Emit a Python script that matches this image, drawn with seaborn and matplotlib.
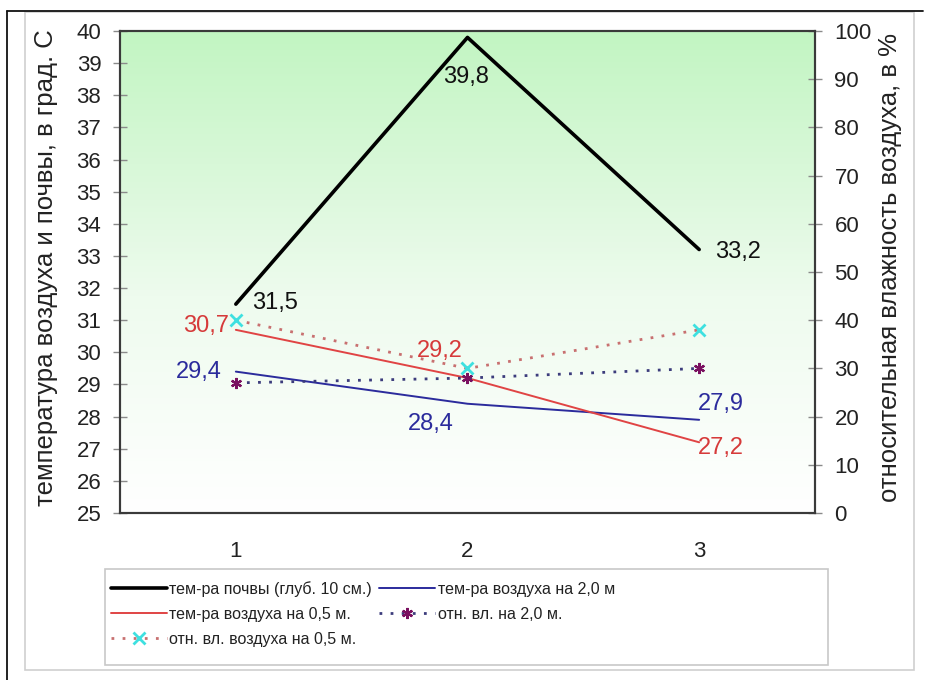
import numpy as np
import matplotlib
matplotlib.use("Agg")
import matplotlib.pyplot as plt
import seaborn as sns
from matplotlib.colors import LinearSegmentedColormap
from matplotlib.patches import Rectangle
from matplotlib.lines import Line2D

# ---- data ----
categories = ["1", "2", "3"]
soil_temp = [31.5, 39.8, 33.2]        # тем-ра почвы (глуб. 10 см.)
air_temp_2m = [29.4, 28.4, 27.9]      # тем-ра воздуха на 2,0 м
air_temp_05m = [30.7, 29.2, 27.2]     # тем-ра воздуха на 0,5 м.
rh_2m = [27, 28, 30]                  # отн. вл. на 2,0 м.
rh_05m = [40, 30, 38]                 # отн. вл. воздуха на 0,5 м.

series_names = [
    "тем-ра почвы (глуб. 10 см.)",
    "тем-ра воздуха на 2,0 м",
    "тем-ра воздуха на 0,5 м.",
    "отн. вл. на 2,0 м.",
    "отн. вл. воздуха на 0,5 м.",
]
left_label = "температура воздуха и почвы, в град. С"
right_label = "относительная влажность воздуха, в %"
temp_ticks = list(range(25, 41))
rh_ticks = list(range(0, 101, 10))

# ---- style ----
sns.set_style("white")
plt.rcParams["font.family"] = ["Liberation Sans", "DejaVu Sans"]
TXT = "#222222"

W, H = 929, 680
fig = plt.figure(figsize=(W / 100, H / 100), dpi=100)
fig.patch.set_facecolor("white")


def fx(px):
    return px / W


def fy(py):
    return 1 - py / H


# frame around the whole picture
fig.add_artist(Rectangle((fx(25), fy(670)), fx(914) - fx(25), fy(12) - fy(670),
                         transform=fig.transFigure, fill=False,
                         edgecolor="#cfcfcf", lw=1.2))
fig.add_artist(Line2D([fx(7), fx(923)], [fy(11), fy(11)],
                      transform=fig.transFigure, color="#111111", lw=1.3))
fig.add_artist(Line2D([fx(7), fx(7)], [fy(11), fy(680)],
                      transform=fig.transFigure, color="#111111", lw=1.3))

ax = fig.add_axes([fx(120), fy(513), fx(815) - fx(120), fy(31) - fy(513)])
ax2 = ax.twinx()

pos = np.arange(len(categories))

# gradient background of the plot area
grad_cmap = LinearSegmentedColormap.from_list(
    "bg", [(0.0, "#ffffff"), (0.45, "#eefbee"), (1.0, "#c2f5c2")])
ax.imshow(np.linspace(0, 1, 256).reshape(-1, 1), cmap=grad_cmap, origin="lower",
          extent=[-0.5, len(categories) - 0.5, temp_ticks[0], temp_ticks[-1]],
          aspect="auto", zorder=0, interpolation="bilinear")


def draw(axis, values, **kw):
    n = len(axis.lines)
    sns.lineplot(x=pos, y=values, ax=axis, legend=False, **kw)
    return axis.lines[n]


h_soil = draw(ax, soil_temp, color="#000000", lw=2.6)
h_a2 = draw(ax, air_temp_2m, color="#2b2b9c", lw=1.4)
h_a05 = draw(ax, air_temp_05m, color="#e04444", lw=1.4)

h_rh2 = draw(ax2, rh_2m, color="#3c3c7c", lw=2.0, linestyle=(0, (1.0, 3.0)),
             marker=(6, 2, 0), markersize=8)
h_rh2.set_markeredgecolor("#7a1060")
h_rh2.set_markerfacecolor("#7a1060")
h_rh2.set_markeredgewidth(1.6)

h_rh05 = draw(ax2, rh_05m, color="#c87070", lw=2.0, linestyle=(0, (1.0, 3.0)),
              marker="x", markersize=9)
h_rh05.set_markeredgecolor("#3ee0e0")
h_rh05.set_markeredgewidth(2.0)


# value labels
def fmt(v):
    return f"{v:.1f}".replace(".", ",")


label_sets = [
    (soil_temp, "#111111", [(39, 1), (-1, -40), (39, -2)]),
    (air_temp_2m, "#2b2b9c", [(-37, 0), (-37, -20), (22, 16)]),
    (air_temp_05m, "#d63a3a", [(-30, 4), (-28, 27), (22, -6)]),
]
for vals, col, offs in label_sets:
    for x, v, (dx, dy) in zip(pos, vals, offs):
        ax.annotate(fmt(v), xy=(x, v), xytext=(dx * 0.72, dy * 0.72),
                    textcoords="offset points", ha="center", va="center",
                    fontsize=17, color=col, zorder=5)

# axes
ax.set_xlim(-0.5, len(categories) - 0.5)
ax.set_ylim(temp_ticks[0], temp_ticks[-1])
ax.set_yticks(temp_ticks)
ax.set_xticks(pos)
ax.set_xticklabels(categories)
ax2.set_ylim(rh_ticks[0], rh_ticks[-1])
ax2.set_yticks(rh_ticks)

ax.tick_params(axis="y", direction="inout", length=10, width=1, color="#8a8a8a",
               labelsize=16, labelcolor=TXT, pad=8.5)
ax2.tick_params(axis="y", direction="inout", length=10, width=1, color="#8a8a8a",
                labelsize=16, labelcolor=TXT, pad=9)
ax.tick_params(axis="x", length=0, labelsize=16, labelcolor=TXT, pad=20)

for a in (ax, ax2):
    for s in a.spines.values():
        s.set_color("#3a3a3a")
        s.set_linewidth(1.5)

ax.set_ylabel(left_label, fontsize=18.5, color=TXT)
ax.yaxis.label.set_va("center")
ax.yaxis.set_label_coords((46 - 120) / 695, (513 - 268) / 482)
ax2.set_ylabel(right_label, fontsize=18.5, color=TXT)
ax2.yaxis.label.set_va("center")
ax2.yaxis.set_label_coords((890 - 120) / 695, (513 - 268) / 482)
ax.set_xlabel("")

# legend
fig.add_artist(Rectangle((fx(105), fy(665)), fx(828) - fx(105), fy(569) - fy(665),
                         transform=fig.transFigure, fill=False,
                         edgecolor="#c8c8c8", lw=1.2))
handles = [h_soil, h_a05, h_rh05, h_a2, h_rh2]
labels = [series_names[0], series_names[2], series_names[4],
          series_names[1], series_names[3]]
fig.legend(handles, labels, ncol=2, loc="upper left",
           bbox_to_anchor=(fx(111), fy(581)), frameon=False,
           prop={"size": 11.5},
           labelcolor=TXT, handlelength=3.5, handletextpad=0.15,
           columnspacing=0.45, labelspacing=0.62, borderaxespad=0, borderpad=0,
           numpoints=1)

fig.savefig("out.png", dpi=100)
